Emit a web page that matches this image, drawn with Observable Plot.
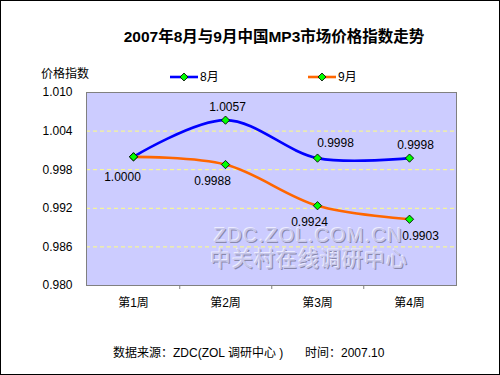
<!DOCTYPE html>
<html><head><meta charset="utf-8">
<script src="https://cdn.jsdelivr.net/npm/d3@7"></script>
<script src="https://cdn.jsdelivr.net/npm/@observablehq/plot@0.6"></script>
<style>
html,body{margin:0;padding:0;background:#fff;}
#c{position:relative;width:500px;height:375px;overflow:hidden;font-family:"Liberation Sans","Noto Sans CJK SC",sans-serif;color:#000;}
.abs{position:absolute;white-space:nowrap;}
#border{position:absolute;left:0;top:0;width:500px;height:375px;box-sizing:border-box;border:1px solid #000;pointer-events:none;}
#plot{position:absolute;left:0;top:0;}
.wm{position:absolute;white-space:nowrap;color:#c6c6ea;text-shadow:-1px -1px 0 #ececff,1px 1px 0 #8a8aac;pointer-events:none;}
</style></head>
<body>
<div id="c">
  <div class="wm" style="left:214px;top:228px;font-size:20px;line-height:15px;letter-spacing:1.2px;">ZDC.ZOL.COM.CN</div>
  <div class="wm" style="left:210px;top:247px;font-size:21px;line-height:21px;letter-spacing:1px;font-family:'Noto Sans CJK SC',sans-serif;">中关村在线调研中心</div>
  <div id="plot"></div>
  <div class="abs" style="left:74px;width:400px;top:27px;text-align:center;font-weight:bold;font-size:15.5px;line-height:20px;">2007年8月与9月中国MP3市场价格指数走势</div>
  <div class="abs" style="left:41px;top:66px;font-size:12px;line-height:16px;">价格指数</div>
  <div id="legend"></div>
  <div class="abs" style="left:113px;top:345px;font-size:12px;line-height:16px;">数据来源：ZDC(ZOL 调研中心 )</div>
  <div class="abs" style="left:305px;top:345px;font-size:12px;line-height:16px;">时间：2007.10</div>
  <div id="border"></div>
</div>
<script>
// Data
const weeks = ["第1周", "第2周", "第3周", "第4周"];
const seriesNames = ["8月", "9月"];
const augValues = [1.0000, 1.0057, 0.9998, 0.9998];
const sepValues = [1.0000, 0.9988, 0.9924, 0.9903];
const yTicks = [0.980, 0.986, 0.992, 0.998, 1.004, 1.010];
const gridTicks = [0.986, 0.992, 0.998, 1.004];
const colors = ["#0000ff", "#ff6600"];

const aug = weeks.map((w, i) => ({week: w, value: augValues[i], i}));
const sep = weeks.map((w, i) => ({week: w, value: sepValues[i], i}));

// label nudges (layout only), per week index
const augLabelDx = [0, 2, 18, 6];
const sepLabelDx = [-11, -13, -8, 11];
const sepLabelDy = [20, 17, 16, 17];

const W = 500, H = 330, mL = 86, mR = 44, mT = 92, mB = 45;
const step = (W - mL - mR) / weeks.length;
const fmt4 = d3.format(".4f");

const labelMarks = (data, dxs, dys) => data.map(d =>
  Plot.text([d], {x: "week", y: "value", text: v => fmt4(v.value), dx: dxs[d.i], dy: dys[d.i], fontSize: 12, fill: "#000"}));

const chart = Plot.plot({
  width: W, height: H,
  marginLeft: mL, marginRight: mR, marginTop: mT, marginBottom: mB,
  style: {fontFamily: '"Liberation Sans","Noto Sans CJK SC",sans-serif', fontSize: "12px", background: "transparent", color: "#000"},
  x: {type: "point", domain: weeks, padding: 0.5},
  y: {domain: [0.980, 1.010]},
  marks: [
    Plot.ruleY(gridTicks, {stroke: "#ffff80", strokeDasharray: "4,3", strokeWidth: 1}),
    Plot.line(aug, {x: "week", y: "value", stroke: colors[0], strokeWidth: 2.6, curve: "catmull-rom"}),
    Plot.line(sep, {x: "week", y: "value", stroke: colors[1], strokeWidth: 2.6, curve: "catmull-rom"}),
    Plot.dot(aug, {x: "week", y: "value", symbol: "square", rotate: 45, r: 3.3, fill: "#00ff00", stroke: "#000", strokeWidth: 0.8}),
    Plot.dot(sep, {x: "week", y: "value", symbol: "square", rotate: 45, r: 3.3, fill: "#00ff00", stroke: "#000", strokeWidth: 0.8}),
    ...labelMarks(aug.slice(1), augLabelDx, [-14, -13, -15, -13]),
    ...labelMarks(sep, sepLabelDx, sepLabelDy),
    Plot.frame({stroke: "#808080", strokeWidth: 1}),
    Plot.axisY(yTicks, {tickSize: 0, tickPadding: 14, tickFormat: d3.format(".3f"), label: null, fontSize: 12}),
    Plot.axisX({tickSize: 0, tickPadding: 13, label: null, fontSize: 12}),
    Plot.axisX(weeks.slice(0, 3), {tickSize: 4, tickFormat: () => "", dx: step / 2, stroke: "#808080", label: null})
  ]
});
// plot-area background drawn separately, behind the watermark
const bg = Plot.plot({
  width: W, height: H,
  marginLeft: mL, marginRight: mR, marginTop: mT, marginBottom: mB,
  style: {background: "transparent"},
  x: {type: "point", domain: weeks, padding: 0.5, axis: null},
  y: {domain: [0.980, 1.010], axis: null},
  marks: [Plot.frame({fill: "#ccccff", stroke: null})]
});
const c = document.getElementById("c");
const bgDiv = document.createElement("div");
bgDiv.className = "abs";
bgDiv.style.left = "0px"; bgDiv.style.top = "0px";
bgDiv.appendChild(bg);
c.insertBefore(bgDiv, c.firstChild);
document.getElementById("plot").appendChild(chart);

// Legend
const lg = d3.select("#legend");
const legendX = [170, 308];
seriesNames.forEach((name, i) => {
  const box = lg.append("div").attr("class", "abs").style("left", legendX[i] + "px").style("top", "68px");
  const svg = box.append("svg").attr("width", 30).attr("height", 18).style("vertical-align", "top");
  svg.append("line").attr("x1", 0).attr("x2", 28).attr("y1", 9).attr("y2", 9).attr("stroke", colors[i]).attr("stroke-width", 2.6);
  svg.append("rect").attr("x", -2.8).attr("y", -2.8).attr("width", 5.6).attr("height", 5.6)
    .attr("transform", "translate(14,9) rotate(45)").attr("fill", "#00ff00").attr("stroke", "#000").attr("stroke-width", 0.8);
  box.append("span").text(name).style("font-size", "12px").style("line-height", "18px").style("vertical-align", "top");
});
</script>
</body></html>
